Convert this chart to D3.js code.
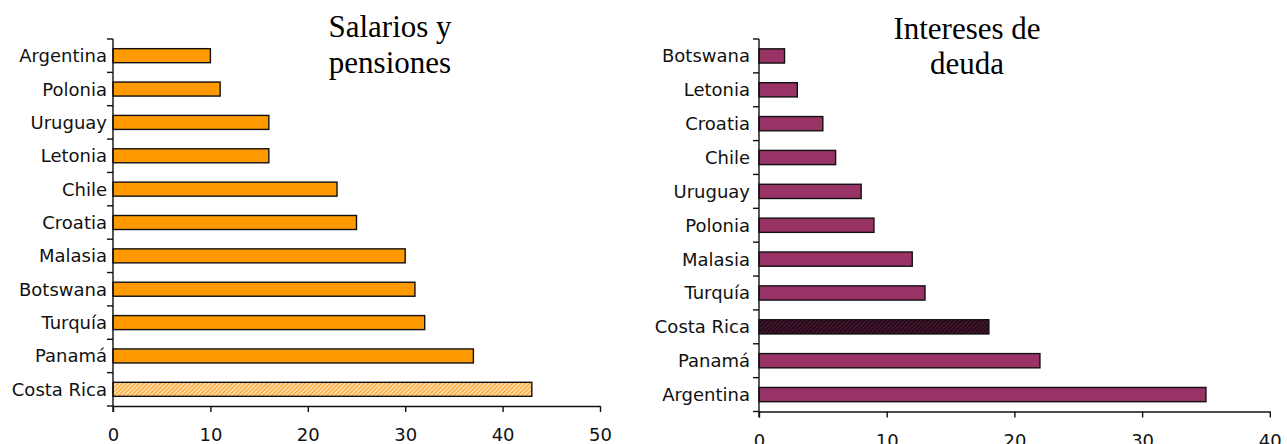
<!DOCTYPE html>
<html>
<head>
<meta charset="utf-8">
<script src="https://cdn.jsdelivr.net/npm/d3@7/dist/d3.min.js"></script>
<style>
  html, body { margin: 0; padding: 0; background: #fff; overflow: hidden; }
  svg { display: block; }
</style>
</head>
<body>
<svg id="chart" width="1287" height="444"></svg>
<script>
// Salarios y pensiones
const salCategories = ["Argentina", "Polonia", "Uruguay", "Letonia", "Chile", "Croatia",
                       "Malasia", "Botswana", "Turquía", "Panamá", "Costa Rica"];
const salValues = [10, 11, 16, 16, 23, 25, 30, 31, 32, 37, 43];
const salTicks = [0, 10, 20, 30, 40, 50];
const salTitle = ["Salarios y", "pensiones"];

// Intereses de deuda
const intCategories = ["Botswana", "Letonia", "Croatia", "Chile", "Uruguay", "Polonia",
                       "Malasia", "Turquía", "Costa Rica", "Panamá", "Argentina"];
const intValues = [2, 3, 5, 6, 8, 9, 12, 13, 18, 22, 35];
const intTicks = [0, 10, 20, 30, 40];
const intTitle = ["Intereses de", "deuda"];

const highlight = "Costa Rica";

const svg = d3.select("#chart");
const defs = svg.append("defs");

// hatched fills for the highlighted country
function hatch(id, base, line) {
  const p = defs.append("pattern")
    .attr("id", id)
    .attr("patternUnits", "userSpaceOnUse")
    .attr("width", 3).attr("height", 3)
    .attr("patternTransform", "rotate(45)");
  p.append("rect").attr("width", 3).attr("height", 3).attr("fill", base);
  p.append("rect").attr("width", 1.4).attr("height", 3).attr("fill", line);
}
hatch("hatchOrange", "#ffe6c2", "#f7a326");
hatch("hatchPurple", "#4a1833", "#1a0510");

const font = "'DejaVu Sans', Verdana, sans-serif";
const labelSize = 18;

function drawPanel(opt) {
  const g = svg.append("g");
  const x = d3.scaleLinear().domain(opt.domain).range([opt.x0, opt.x1]);
  const y = d3.scaleBand().domain(opt.categories).range([opt.y0, opt.y1]).paddingInner(0.58).paddingOuter(0.29);
  const step = (opt.y1 - opt.y0) / opt.categories.length;

  // bars
  g.selectAll("rect.bar")
    .data(opt.categories.map((c, i) => ({ c, v: opt.values[i] })))
    .join("rect")
    .attr("class", "bar")
    .attr("x", x(0))
    .attr("y", d => y(d.c))
    .attr("width", d => x(d.v) - x(0))
    .attr("height", y.bandwidth())
    .attr("fill", d => d.c === highlight ? opt.hiFill : opt.fill)
    .attr("stroke", "#111")
    .attr("stroke-width", 1.4);

  // category axis: line with boundary ticks, labels centred on bands
  const bounds = d3.range(opt.categories.length + 1).map(i => opt.y0 + i * step);
  g.append("line")
    .attr("x1", x(0)).attr("x2", x(0))
    .attr("y1", opt.y0).attr("y2", opt.y1 + 6)
    .attr("stroke", "#111").attr("stroke-width", 1.4);
  g.selectAll("line.ytick").data(bounds).join("line")
    .attr("class", "ytick")
    .attr("x1", x(0) - 6).attr("x2", x(0))
    .attr("y1", d => d).attr("y2", d => d)
    .attr("stroke", "#111").attr("stroke-width", 1.4);
  g.selectAll("text.ylab").data(opt.categories).join("text")
    .attr("class", "ylab")
    .attr("x", x(0) - opt.labelGap)
    .attr("y", d => y(d) + y.bandwidth() / 2)
    .attr("dy", "0.36em")
    .attr("text-anchor", "end")
    .attr("font-family", font)
    .attr("font-size", labelSize)
    .attr("fill", "#111")
    .text(d => d);

  // value axis
  const ax = g.append("g")
    .attr("transform", `translate(0,${opt.y1})`)
    .call(d3.axisBottom(x).tickValues(opt.ticks).tickSize(6).tickSizeOuter(0).tickFormat(d3.format("d")));
  ax.select(".domain").attr("stroke", "#111").attr("stroke-width", 1.4);
  ax.selectAll(".tick line").attr("stroke", "#111").attr("stroke-width", 1.4);
  ax.selectAll(".tick text")
    .attr("y", 35).attr("dy", 0)
    .attr("font-family", font)
    .attr("font-size", labelSize)
    .attr("fill", "#111");

  // title
  g.append("text")
    .attr("x", opt.titleX)
    .attr("y", opt.titleY)
    .attr("text-anchor", "middle")
    .attr("font-family", "'Liberation Serif', 'Times New Roman', serif")
    .attr("font-size", 31)
    .attr("fill", "#000")
    .selectAll("tspan").data(opt.title).join("tspan")
    .attr("x", opt.titleX)
    .attr("dy", (d, i) => i === 0 ? 0 : 35.5)
    .text(d => d);
}

drawPanel({
  categories: salCategories, values: salValues, ticks: salTicks, title: salTitle,
  domain: [0, 50], x0: 113, x1: 600, y0: 39, y1: 406,
  fill: "#ff9900", hiFill: "url(#hatchOrange)", labelGap: 6,
  titleX: 390, titleY: 37
});

drawPanel({
  categories: intCategories, values: intValues, ticks: intTicks, title: intTitle,
  domain: [0, 40], x0: 759, x1: 1269.8, y0: 39, y1: 411.5,
  fill: "#993366", hiFill: "url(#hatchPurple)", labelGap: 9,
  titleX: 967, titleY: 38.5
});
</script>
</body>
</html>
